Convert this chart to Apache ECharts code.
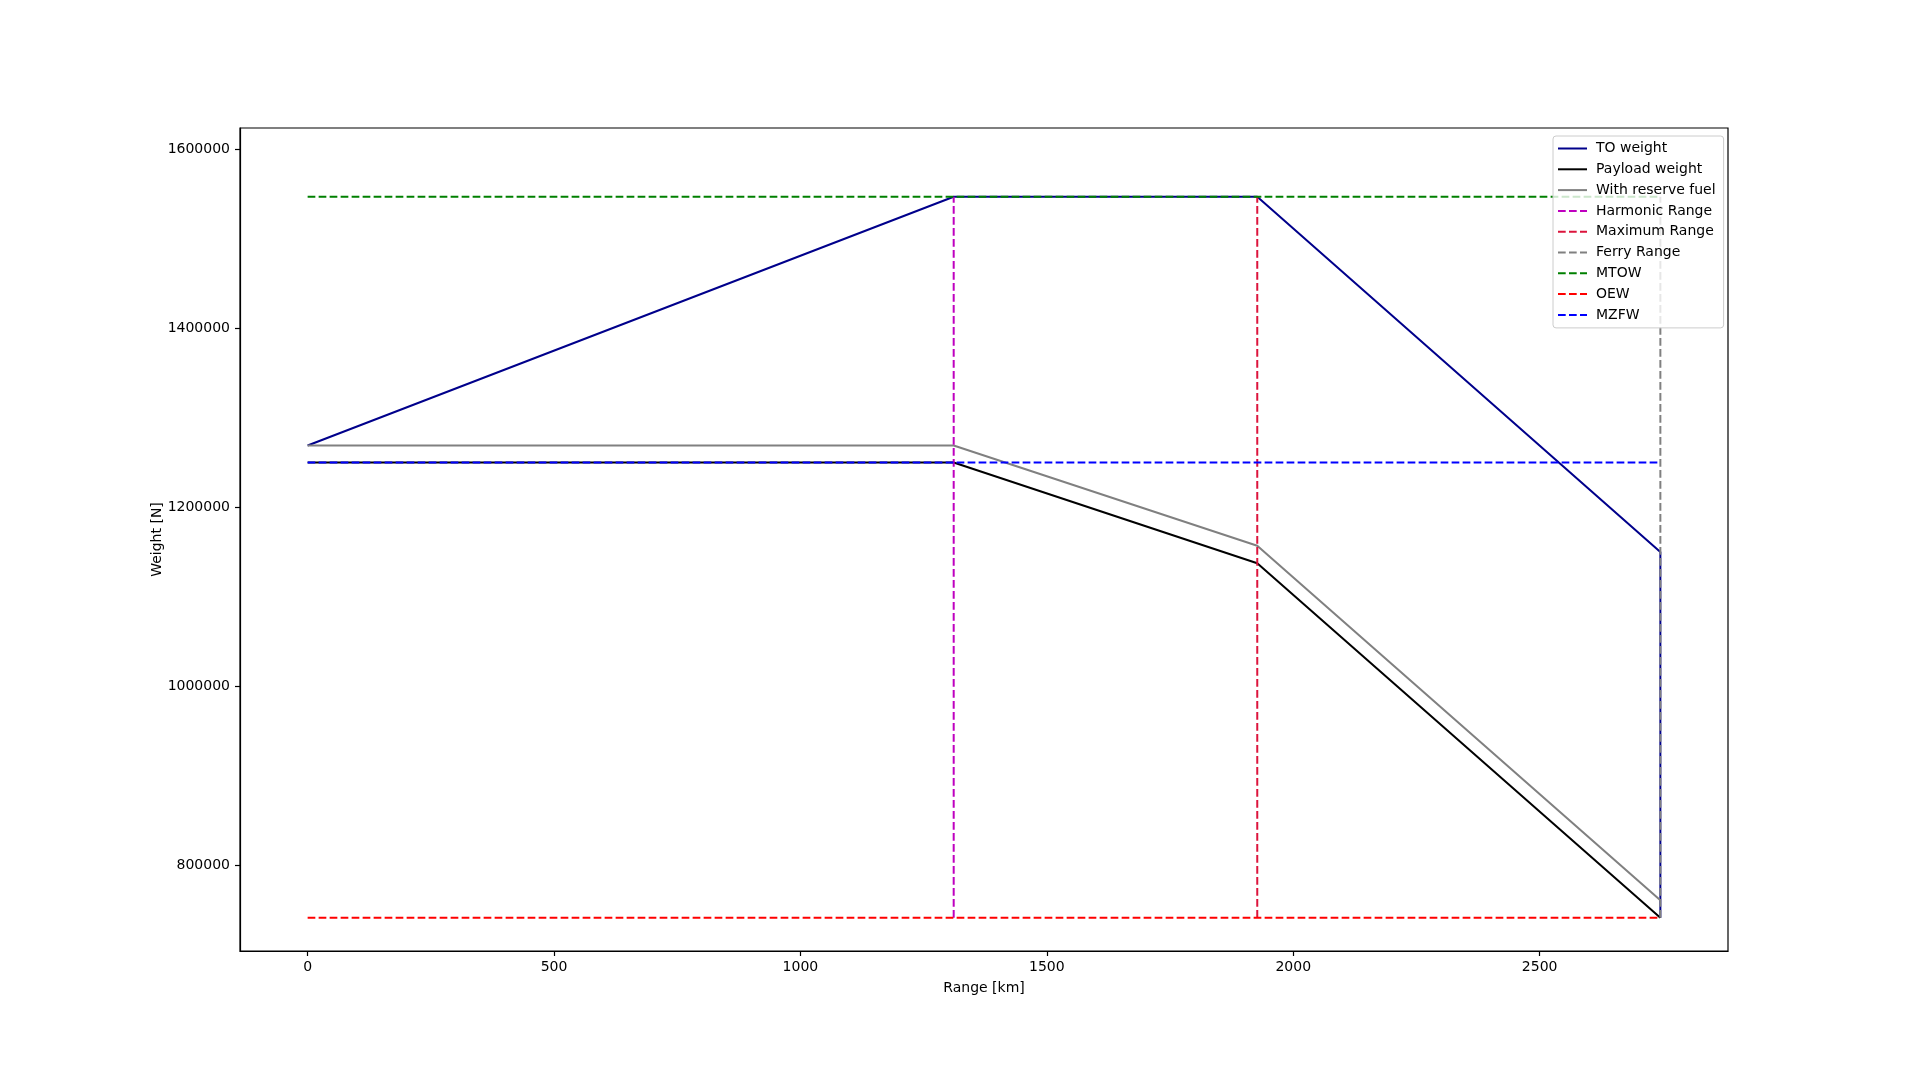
<!DOCTYPE html>
<html>
<head>
<meta charset="utf-8">
<script src="https://cdn.jsdelivr.net/npm/echarts@6/dist/echarts.min.js"></script>
<style>
html,body{margin:0;padding:0;background:#fff;}
#chart{width:1920px;height:1069px;}
</style>
</head>
<body>
<div id="chart"></div>
<script>
// ---- data ----
const toRange = [0, 1311, 1927, 2745, 2745];
const toWeight = [1269000, 1547000, 1547000, 1150000, 741500];
const payloadRange = [0, 1311, 1927, 2745];
const payloadWeight = [1250000, 1250000, 1137500, 741500];
const reserveRange = [0, 1311, 1927, 2745];
const reserveWeight = [1269000, 1269000, 1157000, 761000];
const harmonicRange = 1311;
const maximumRange = 1927;
const ferryRange = 2745;
const MTOW = 1547000;
const OEW = 741500;
const MZFW = 1250000;
const xTicks = [0, 500, 1000, 1500, 2000, 2500];
const yTicks = [800000, 1000000, 1200000, 1400000, 1600000];
const seriesNames = ['TO weight', 'Payload weight', 'With reserve fuel', 'Harmonic Range', 'Maximum Range', 'Ferry Range', 'MTOW', 'OEW', 'MZFW'];

const zip = (xs, ys) => xs.map((x, i) => [x, ys[i]]);
const FONT = 'DejaVu Sans';
const DASH = [7.7, 3.3];

function line(name, data, color, dashed) {
  return {
    name: name, type: 'line', data: data, symbol: 'none', silent: true,
    lineStyle: { color: color, width: 2, type: dashed ? DASH : 'solid' },
    itemStyle: { color: color }
  };
}

const chart = echarts.init(document.getElementById('chart'));
chart.setOption({
  animation: false,
  backgroundColor: '#fff',
  textStyle: { fontFamily: FONT },
  grid: { left: 240, top: 128, right: 192, bottom: 118, show: true, borderColor: '#000', borderWidth: 1.2, backgroundColor: 'transparent' },
  legend: {
    data: seriesNames,
    orient: 'vertical',
    left: 1553, top: 136,
    padding: [5.5, 8, 6, 4],
    itemWidth: 29, itemHeight: 14, itemGap: 6.8,
    itemStyle: { opacity: 0 },
    backgroundColor: 'rgba(255,255,255,0.8)',
    borderColor: '#cccccc', borderWidth: 1, borderRadius: 3,
    textStyle: { fontFamily: FONT, fontSize: 14, color: '#000', padding: [0, 0, 0, 4] },
    selectedMode: false
  },
  xAxis: {
    type: 'value', min: -137.25, max: 2882.25,
    name: 'Range [km]', nameLocation: 'middle', nameGap: 30,
    nameTextStyle: { fontFamily: FONT, fontSize: 14, color: '#000' },
    axisLine: { show: true, onZero: false, lineStyle: { color: '#000', width: 1.2 } },
    axisTick: { show: true, length: 5, customValues: xTicks, lineStyle: { color: '#000', width: 1.2 } },
    axisLabel: { customValues: xTicks, formatter: v => String(v), fontFamily: FONT, fontSize: 14, color: '#000', margin: 9 },
    splitLine: { show: false }
  },
  yAxis: {
    type: 'value', min: 704250, max: 1623800,
    name: 'Weight [N]', nameLocation: 'middle', nameGap: 76, nameMoveOverlap: false,
    nameTextStyle: { fontFamily: FONT, fontSize: 14, color: '#000' },
    axisLine: { show: true, onZero: false, lineStyle: { color: '#000', width: 1.2 } },
    axisTick: { show: true, length: 5, customValues: yTicks, lineStyle: { color: '#000', width: 1.2 } },
    axisLabel: { customValues: yTicks, formatter: v => String(v), fontFamily: FONT, fontSize: 14, color: '#000', margin: 10 },
    splitLine: { show: false }
  },
  series: [
    line(seriesNames[0], zip(toRange, toWeight), '#00008B', false),
    line(seriesNames[1], zip(payloadRange, payloadWeight), '#000000', false),
    line(seriesNames[2], zip(reserveRange, reserveWeight), '#808080', false),
    line(seriesNames[3], [[harmonicRange, OEW], [harmonicRange, MTOW]], '#BF00BF', true),
    line(seriesNames[4], [[maximumRange, OEW], [maximumRange, MTOW]], '#DC143C', true),
    line(seriesNames[5], [[ferryRange, OEW], [ferryRange, MTOW]], '#808080', true),
    line(seriesNames[6], [[0, MTOW], [ferryRange, MTOW]], '#008000', true),
    line(seriesNames[7], [[0, OEW], [ferryRange, OEW]], '#FF0000', true),
    line(seriesNames[8], [[0, MZFW], [ferryRange, MZFW]], '#0000FF', true)
  ]
});
</script>
</body>
</html>
